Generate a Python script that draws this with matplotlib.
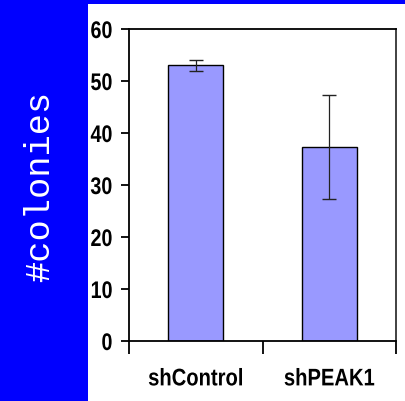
import matplotlib
matplotlib.use("Agg")
import matplotlib.pyplot as plt
from matplotlib.patches import Rectangle
from matplotlib.patheffects import AbstractPathEffect
from matplotlib.transforms import Affine2D

categories = ["shControl", "shPEAK1"]
colonies = [53.0, 37.4]
errors = [1.0, 10.0]
y_ticks = [0, 10, 20, 30, 40, 50, 60]


class Squeeze(AbstractPathEffect):
    """Narrow the glyphs horizontally about an anchor (0=left, 1=right)."""

    def __init__(self, sx=0.82, anchor=0.5):
        super().__init__()
        self.sx = sx
        self.anchor = anchor

    def draw_path(self, renderer, gc, tpath, affine, rgbFace=None):
        ext = tpath.get_extents()
        cx = ext.x0 + self.anchor * ext.width
        t = Affine2D().translate(-cx, 0).scale(self.sx, 1).translate(cx, 0)
        renderer.draw_path(gc, tpath, t + affine, rgbFace)


W, H = 406, 402
fig = plt.figure(figsize=(W / 100, H / 100), dpi=100)
fig.patch.set_facecolor("white")

# blue side panel and top strip
fig.patches.append(Rectangle((0, 0), 88 / W, 1, transform=fig.transFigure,
                             facecolor="#0000FF", edgecolor="none", zorder=-5))
fig.patches.append(Rectangle((0, 1 - 5 / H), 1, 5 / H, transform=fig.transFigure,
                             facecolor="#0000FF", edgecolor="none", zorder=-5))
fig.text(40 / W, 1 - 186 / H, "#colonies", rotation=90, color="white",
         family=["Liberation Mono", "DejaVu Sans Mono"], fontsize=25.5,
         ha="center", va="center")

ax = fig.add_axes([129 / W, 1 - 342 / H, 267 / W, 312 / H])
x = list(range(len(categories)))
ax.bar(x, colonies, width=0.41, color="#9999FF", edgecolor="black",
       linewidth=1.0, zorder=2)
ax.errorbar(x, colonies, yerr=errors, fmt="none", ecolor="#222222",
            elinewidth=0.9, capsize=5, capthick=1.0, zorder=3)

ax.set_xlim(-0.5, 1.5)
ax.set_ylim(0, 60)
ax.set_yticks(y_ticks)

tick_font = dict(family=["Liberation Sans", "DejaVu Sans"],
                 weight="bold", size=17.3)
ylabels = ax.set_yticklabels([str(v) for v in y_ticks], fontdict=tick_font)
for t in ylabels:
    t.set_path_effects([Squeeze(0.82, 1.0)])
ax.tick_params(axis="y", direction="out", length=6, width=1.3, pad=5.8)

ax.set_xticks([-0.5, 0.5, 1.5])
ax.set_xticklabels([])
ax.tick_params(axis="x", which="major", direction="out", length=9, width=1.3)
ax.set_xticks(x, minor=True)
xlabels = ax.set_xticklabels(categories, minor=True, fontdict=tick_font)
for t in xlabels:
    t.set_path_effects([Squeeze(0.84, 0.5)])
ax.tick_params(axis="x", which="minor", length=0, pad=19)

for s in ax.spines.values():
    s.set_linewidth(1.3)
    s.set_color("black")
ax.spines["right"].set_color("#333333")

fig.savefig("out.png", dpi=100)
